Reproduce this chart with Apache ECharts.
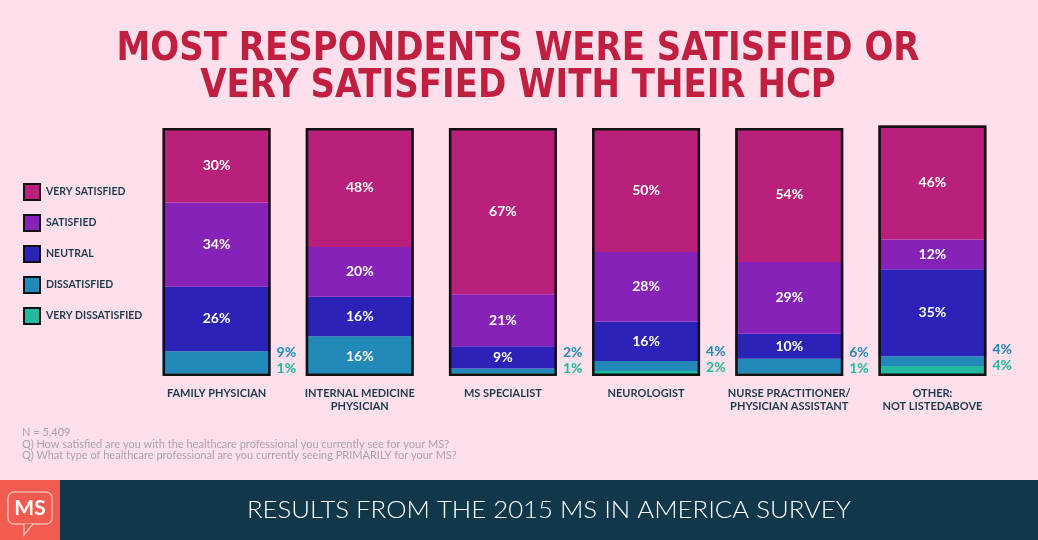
<!DOCTYPE html>
<html>
<head>
<meta charset="utf-8">
<script src="https://cdn.jsdelivr.net/npm/echarts@6/dist/echarts.min.js"></script>
<style>
html,body{margin:0;padding:0;background:#fde0ec;}
#chart{width:1038px;height:540px;}
</style>
</head>
<body>
<div id="chart"></div>
<script>
var categories = ['FAMILY PHYSICIAN', 'INTERNAL MEDICINE\nPHYSICIAN', 'MS SPECIALIST', 'NEUROLOGIST', 'NURSE PRACTITIONER/\nPHYSICIAN ASSISTANT', 'OTHER:\nNOT LISTEDABOVE'];
var verySatisfied    = [30, 48, 67, 50, 54, 46];
var satisfied        = [34, 20, 21, 28, 29, 12];
var neutral          = [26, 16, 9, 16, 10, 35];
var dissatisfied     = [9, 16, 2, 4, 6, 4];
var veryDissatisfied = [1, 0, 1, 2, 1, 4];
var seriesNames = ['VERY SATISFIED', 'SATISFIED', 'NEUTRAL', 'DISSATISFIED', 'VERY DISSATISFIED'];
var titleLines = ['MOST RESPONDENTS WERE SATISFIED OR', 'VERY SATISFIED WITH THEIR HCP'];
var footnotes = ['N = 5,409', 'Q) How satisfied are you with the healthcare professional you currently see for your MS?', 'Q) What type of healthcare professional are you currently seeing PRIMARILY for your MS?'];
var footerText = 'RESULTS FROM THE 2015 MS IN AMERICA SURVEY';

var colors = ['#b8207b', '#8722b8', '#2b22b8', '#2389b8', '#24b89e'];
var labelFont = 'Lato';
var darkText = '#1d3a4c';
var outsideBelow = 10;

var chart = echarts.init(document.getElementById('chart'), null, {renderer: 'canvas'});

function insideLabel(k) {
  return {
    show: true, position: 'inside', color: '#ffffff', fontFamily: labelFont,
    fontWeight: 'bold', fontSize: 14,
    formatter: function (p) {
      if (p.value <= 0) return '';
      if (k >= 3 && p.value < outsideBelow) return '';
      return p.value + '%';
    }
  };
}

var order = [verySatisfied, satisfied, neutral, dissatisfied, veryDissatisfied];
var series = [];
for (var k = 4; k >= 0; k--) {
  var s = {
    name: seriesNames[k], type: 'bar', stack: 'total', barWidth: 108, clip: false,
    data: order[k].slice(), itemStyle: {color: colors[k]}, label: insideLabel(k),
    emphasis: {disabled: true}
  };
  if (k === 4) {
    s.label = {
      show: true, position: 'right', verticalAlign: 'bottom', offset: [1, 2],
      fontFamily: labelFont, fontWeight: 'bold', fontSize: 14, lineHeight: 16,
      formatter: function (p) {
        var d = dissatisfied[p.dataIndex];
        if (d >= outsideBelow) return '';
        return '{a|' + d + '%}\n{b|' + p.value + '%}';
      },
      rich: {
        a: {color: colors[3], fontFamily: labelFont, fontWeight: 'bold', fontSize: 14, lineHeight: 16},
        b: {color: colors[4], fontFamily: labelFont, fontWeight: 'bold', fontSize: 14, lineHeight: 16}
      }
    };
  }
  series.push(s);
}
var totals = categories.map(function (c, i) {
  return verySatisfied[i] + satisfied[i] + neutral[i] + dissatisfied[i] + veryDissatisfied[i];
});
series.push({
  name: 'outline', type: 'bar', barWidth: 108, barGap: '-100%', z: 5, silent: true, clip: false,
  data: totals, itemStyle: {color: 'rgba(0,0,0,0)', borderColor: '#111111', borderWidth: 2.5},
  label: {show: false}, emphasis: {disabled: true}
});

var graphics = [];
graphics.push({
  type: 'text', x: 518, y: 31, scaleX: 0.97, originX: 0,
  style: {
    text: titleLines.join('\n'), fill: '#c01f40',
    font: 'bold 39px "DejaVu Sans Condensed", "DejaVu Sans", sans-serif',
    textAlign: 'center', lineHeight: 37
  }
});
graphics.push({
  type: 'text', left: 22, top: 427,
  style: {text: footnotes.join('\n'), fill: '#a9a3ad', font: '11px Lato', lineHeight: 11.5}
});
graphics.push({type: 'rect', shape: {x: 0, y: 480, width: 1038, height: 60}, style: {fill: '#11374a'}});
graphics.push({type: 'rect', shape: {x: 0, y: 480, width: 60, height: 60}, style: {fill: '#f25b50'}});
graphics.push({type: 'rect', shape: {x: 8, y: 492, width: 44, height: 32, r: 6}, style: {fill: 'none', stroke: 'rgba(255,255,255,0.55)', lineWidth: 1.5}});
graphics.push({type: 'polyline', shape: {points: [[24, 524], [24, 535], [33, 524]]}, style: {fill: '#f25b50', stroke: 'rgba(255,255,255,0.55)', lineWidth: 1.5}});
graphics.push({type: 'text', x: 30, y: 508, style: {text: 'MS', fill: '#ffffff', font: 'bold 21px Lato', textAlign: 'center', textVerticalAlign: 'middle'}});
graphics.push({type: 'text', x: 549, y: 511, scaleX: 1.12, originX: 0, style: {text: footerText, fill: '#ffffff', font: '300 23px Lato', textAlign: 'center', textVerticalAlign: 'middle'}});

var option = {
  backgroundColor: '#fde0ec',
  animation: false,
  grid: {left: 145, right: 34, top: 128, bottom: 164, containLabel: false},
  legend: {
    orient: 'vertical', left: 18, top: 178, itemGap: 13, itemWidth: 16, itemHeight: 16,
    icon: 'rect', selectedMode: false,
    data: seriesNames.map(function (n) { return {name: n, itemStyle: {borderColor: '#111111', borderWidth: 2}}; }),
    textStyle: {color: darkText, fontFamily: labelFont, fontWeight: 'bold', fontSize: 10.5, padding: [0, 0, 0, 1]}
  },
  xAxis: {
    type: 'category', data: categories,
    axisLine: {show: false}, axisTick: {show: false},
    axisLabel: {color: darkText, fontFamily: labelFont, fontWeight: 'bold', fontSize: 11, margin: 11, lineHeight: 13, interval: 0}
  },
  yAxis: {type: 'value', min: 0, max: 100, show: false, splitLine: {show: false}},
  series: series,
  graphic: graphics
};
chart.setOption(option);
</script>
</body>
</html>
